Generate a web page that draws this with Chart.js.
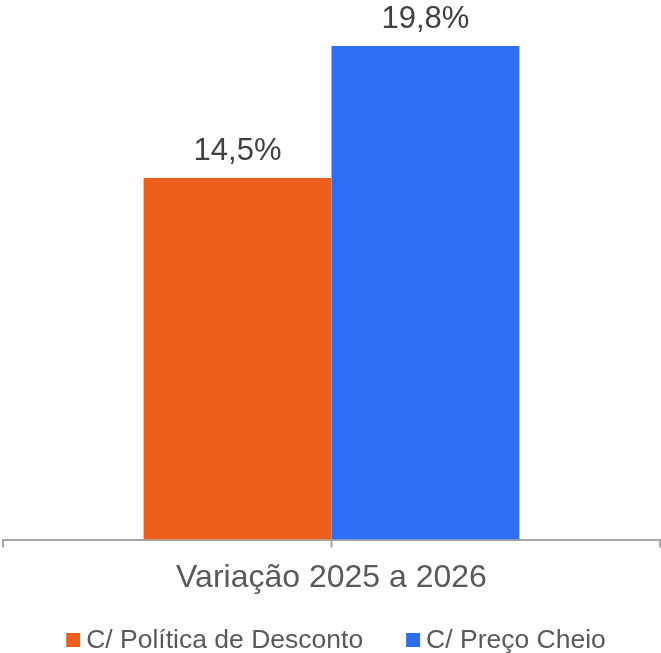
<!DOCTYPE html>
<html>
<head>
<meta charset="utf-8">
<script src="https://cdn.jsdelivr.net/npm/chart.js@4/dist/chart.umd.min.js"></script>
<style>
  body { margin: 0; background: #fff; }
  #wrap { width: 661px; height: 653px; }
</style>
</head>
<body>
<div id="wrap"><canvas id="grafico"></canvas></div>
<script>
const categories = ['Variação 2025 a 2026'];
const seriesLabels = ['C/ Política de Desconto', 'C/ Preço Cheio'];
const descontoValues = [14.5];
const cheioValues = [19.8];
const seriesColors = ['#EE5F1B', '#2D6EF4'];

const fontFamily = '"Liberation Sans", Arial, sans-serif';
const axisColor = '#a6a6a6';

const fmt = v => v.toFixed(1).replace('.', ',') + '%';

// rótulos de valor, tick central e legenda
const extras = {
    id: 'extras',
    afterDraw(chart) {
        const ctx = chart.ctx;
        ctx.save();

        ctx.font = '31px ' + fontFamily;
        ctx.fillStyle = '#404040';
        ctx.textAlign = 'center';
        ctx.textBaseline = 'alphabetic';
        chart.data.datasets.forEach((ds, i) => {
            chart.getDatasetMeta(i).data.forEach((bar, j) => {
                ctx.fillText(fmt(ds.data[j]), bar.x, bar.y - 18);
            });
        });

        const xs = chart.scales.x;
        const cx = xs.getPixelForValue(0);
        ctx.strokeStyle = axisColor;
        ctx.lineWidth = 2;
        ctx.beginPath();
        ctx.moveTo(cx, xs.top);
        ctx.lineTo(cx, xs.top + 8);
        ctx.stroke();

        // legenda
        ctx.font = '26.5px ' + fontFamily;
        ctx.textAlign = 'left';
        const box = 14, gap = 6, itemGap = 43;
        const widths = chart.data.datasets.map(ds => box + gap + ctx.measureText(ds.label).width);
        const total = widths.reduce((a, b) => a + b, 0) + itemGap * (widths.length - 1);
        let x = 336 - total / 2;
        const y = 640;
        chart.data.datasets.forEach((ds, i) => {
            ctx.fillStyle = ds.backgroundColor;
            ctx.fillRect(x, y - box / 2, box, box);
            ctx.fillStyle = '#595959';
            ctx.fillText(ds.label, x + box + gap, y + 8);
            x += widths[i] + itemGap;
        });

        ctx.restore();
    }
};

const ctx = document.getElementById('grafico').getContext('2d');
new Chart(ctx, {
    type: 'bar',
    data: {
        labels: categories,
        datasets: [
            { label: seriesLabels[0], data: descontoValues, backgroundColor: seriesColors[0] },
            { label: seriesLabels[1], data: cheioValues, backgroundColor: seriesColors[1] }
        ]
    },
    options: {
        responsive: true,
        maintainAspectRatio: false,
        animation: false,
        layout: { padding: { top: 41, left: 3, right: 1, bottom: 45 } },
        datasets: { bar: { categoryPercentage: 0.572, barPercentage: 1 } },
        plugins: {
            legend: { display: false },
            tooltip: { enabled: false }
        },
        scales: {
            x: {
                grid: {
                    offset: true,
                    drawOnChartArea: false,
                    drawTicks: true,
                    tickLength: 8,
                    color: axisColor,
                    lineWidth: 2
                },
                border: { color: axisColor, width: 2 },
                ticks: {
                    padding: 11,
                    color: '#595959',
                    font: { family: fontFamily, size: 32 }
                }
            },
            y: {
                display: false,
                min: 0,
                max: 20
            }
        }
    },
    plugins: [extras]
});
</script>
</body>
</html>
